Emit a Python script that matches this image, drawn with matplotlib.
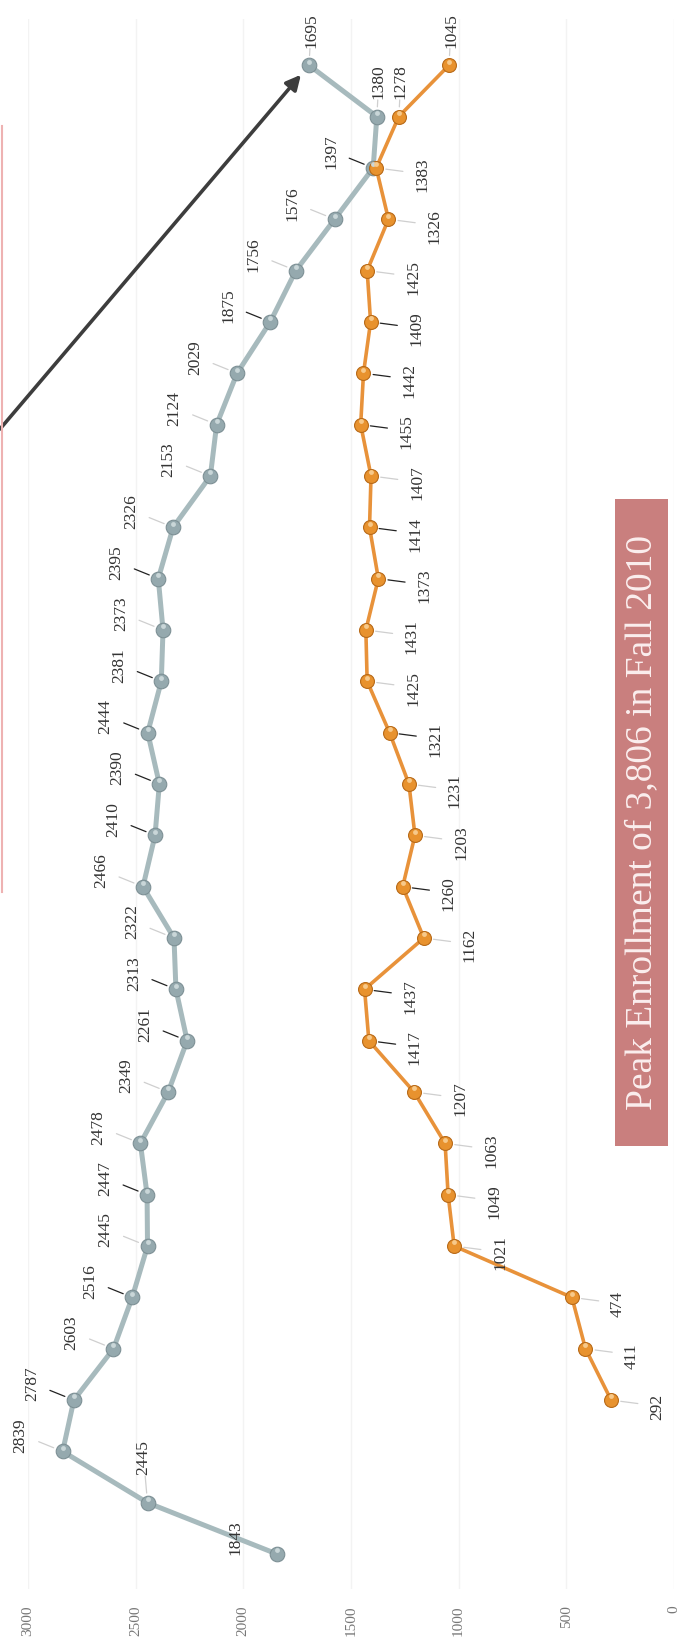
import numpy as np
import matplotlib
matplotlib.use("Agg")
import matplotlib.pyplot as plt
from matplotlib.patches import Rectangle
from matplotlib.lines import Line2D

# enrollment values, oldest term first (chart is drawn rotated)
gray_vals = [1843, 2445, 2839, 2787, 2603, 2516, 2445, 2447, 2478, 2349,
             2261, 2313, 2322, 2466, 2410, 2390, 2444, 2381, 2373, 2395,
             2326, 2153, 2124, 2029, 1875, 1756, 1576, 1397, 1380, 1695]
orange_vals = [292, 411, 474, 1021, 1049, 1063, 1207, 1417, 1437, 1162,
               1260, 1203, 1231, 1321, 1425, 1431, 1373, 1414, 1407, 1455,
               1442, 1409, 1425, 1326, 1383, 1278, 1045]
orange_start = 3
value_ticks = [0, 500, 1000, 1500, 2000, 2500, 3000]
note = "Peak Enrollment of 3,806 in Fall 2010"

# labels whose leader line is dark
gray_dark = [3, 5, 7, 10, 11, 14, 15, 16, 17, 19, 24, 27]
orange_dark = [10, 11, 13, 16, 19, 20, 22, 23, 24]

W, H = 686, 1649
fig = plt.figure(figsize=(W / 100, H / 100), dpi=100)
fig.patch.set_facecolor("white")
ax = fig.add_axes([28 / W, 1 - 1590 / H, 646 / W, 1570 / H])
ax.set_xlim(3000, 0)
ax.set_ylim(-0.68, 29.9)
for s in ax.spines.values():
    s.set_visible(False)

gx = np.arange(len(gray_vals))
ox = np.arange(orange_start, orange_start + len(orange_vals))

for v in value_ticks:
    ax.axvline(v, color="#f3f3f3", lw=1, zorder=0)

ax.set_xticks(value_ticks)
ax.set_xticklabels([str(v) for v in value_ticks], rotation=90,
                   fontsize=11, color="#777777", family="Liberation Serif")
ax.tick_params(axis="x", length=0, pad=11)
ax.set_yticks([])

ax.plot(gray_vals, gx, color="#a7babd", lw=3.6, zorder=2,
        marker="o", ms=10.5, mfc="#95a9ae", mec="#7d9095", mew=0.8)
ax.plot(orange_vals, ox, color="#e8923a", lw=2.6, zorder=3,
        marker="o", ms=10, mfc="#e8922e", mec="#b86a18", mew=0.8)
# small highlights to get the ball look
ax.plot(gray_vals, gx + 0.07, ls="none", marker="o", ms=3.5,
        mfc="#c9d6d8", mec="none", zorder=4)
ax.plot(orange_vals, ox + 0.07, ls="none", marker="o", ms=3.5,
        mfc="#f7c98a", mec="none", zorder=4)


def label(v, i, dx, dy, dark):
    ax.annotate(str(v), xy=(v, i), xytext=(dx, dy), textcoords="offset pixels",
                rotation=90, ha="center", va="center", fontsize=12.5,
                color="#333333", family="Liberation Serif", zorder=5)
    c = "#222222" if dark else "#cfcfcf"
    ax.annotate("", xy=(v, i), xytext=(dx, dy), textcoords="offset pixels",
                arrowprops=dict(arrowstyle="-", color=c, lw=0.9,
                                shrinkA=14, shrinkB=7), zorder=1)


n = len(gray_vals)
for k, (v, i) in enumerate(zip(gray_vals, gx)):
    if k >= n - 2:
        dx, dy = 2, 36
    elif k == 1:
        dx, dy = -4, 46
    else:
        dx, dy = -42, 17
    label(v, i, dx, dy, k in gray_dark)

for k, (v, i) in enumerate(zip(orange_vals, ox)):
    if i >= n - 2:
        dx, dy = 2, 36
    else:
        dx, dy = 46, -6
    label(v, i, dx, dy, i in orange_dark)

# arrow to the last point
ax.annotate("", xy=(gray_vals[-1], gx[-1]), xycoords="data",
            xytext=(0.0, 1 - 430 / H), textcoords="figure fraction",
            arrowprops=dict(arrowstyle="-|>", color="#3d3d3d", lw=2.6,
                            shrinkA=0, shrinkB=9, mutation_scale=22), zorder=6)

# note box
fig.patches.append(Rectangle((615 / W, 1 - 1147 / H), 53 / W, 647 / H,
                             transform=fig.transFigure, facecolor="#c97f7e",
                             edgecolor="none", zorder=1))
fig.text(642 / W, 1 - 823 / H, note, rotation=90, ha="center", va="center",
         fontsize=27, color="#fbeeee", family="Liberation Serif")

# edge of a cut-off box on the left
fig.lines.append(Line2D([1.5 / W, 1.5 / W], [1 - 127 / H, 1 - 893 / H],
                        transform=fig.transFigure, color="#eeb2b2", lw=1.5))

fig.savefig("out.png", dpi=100)
